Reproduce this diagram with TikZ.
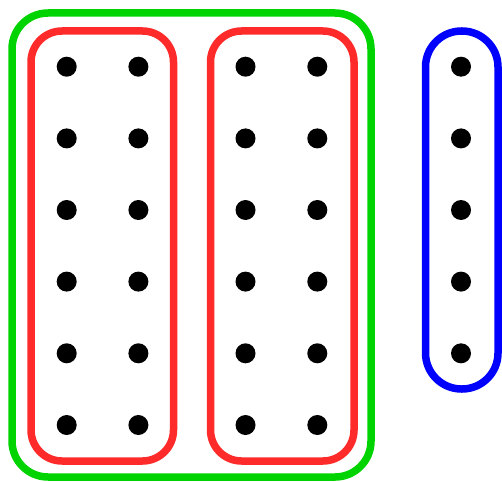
\documentclass[tikz,border=0pt]{standalone}
\definecolor{grp}{RGB}{0,212,0}
\definecolor{rgp}{RGB}{255,42,42}
\definecolor{bgp}{RGB}{0,0,255}
\begin{document}
\begin{tikzpicture}[x=1pt,y=-1pt,
  dot/.style={circle,fill=black,inner sep=0pt,minimum size=20pt},
  grpbox/.style={line width=7.5pt,rounded corners=#1}]
\useasboundingbox (0,0) rectangle (502,481);
\draw[grpbox=36pt,draw=grp] (12,13) rectangle (371,477);
\draw[grpbox=31pt,draw=rgp] (31,31) rectangle (173.5,461);
\draw[grpbox=31pt,draw=rgp] (210.5,31) rectangle (354,461);
\draw[grpbox=36pt,draw=bgp] (425.5,31) rectangle (498,389);
\foreach \c/\x in {a/66.7,b/138.4,c/245.5,d/317.3}{
  \foreach \r/\y in {1/66.7,2/138.4,3/210,4/281.6,5/353.3,6/425}{
    \node[dot] (\c\r) at (\x,\y) {};
  }
}
\foreach \r/\y in {1/66.7,2/138.4,3/210,4/281.6,5/353.3}{
  \node[dot] (e\r) at (461,\y) {};
}
\end{tikzpicture}
\end{document}
